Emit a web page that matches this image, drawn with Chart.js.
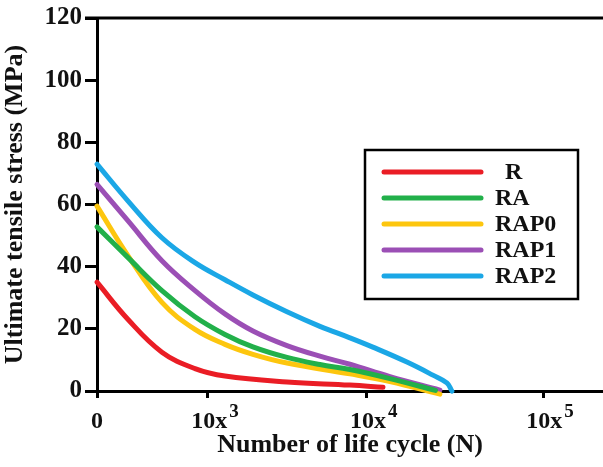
<!DOCTYPE html>
<html>
<head>
<meta charset="utf-8">
<script src="https://cdn.jsdelivr.net/npm/chart.js@4"></script>
<style>
  html, body { margin: 0; padding: 0; background: #fff; }
  #wrap { width: 603px; height: 467px; }
</style>
</head>
<body>
<div id="wrap"><canvas id="myChart"></canvas></div>
<script>
// series labels and colours
const seriesNames = ["R", "RA", "RAP0", "RAP1", "RAP2"];
const seriesColors = ["#ea1d25", "#22b04a", "#fdc60e", "#9b4fb5", "#1ba7e6"];

// x positions are in axis units (0 = origin, tick marks at xTickPos)
const xTickPos = [0, 1, 2.43, 4.02];
const xTickBase = ["0", "10x", "10x", "10x"];
const xTickExp = ["", "3", "4", "5"];

const rX = [0, 0.28, 0.585, 0.883, 1.153, 1.712, 2.279, 2.577];
const rY = [35, 23, 12.5, 7.2, 4.8, 2.9, 1.9, 1.2];

const raX = [0, 0.28, 0.585, 0.883, 1.153, 1.405, 1.712, 2.009, 2.279, 2.64, 3.05];
const raY = [52.8, 42.9, 32.3, 23.9, 18.2, 14.2, 10.8, 8.5, 6.9, 4.0, 0.2];

const rap0X = [0, 0.28, 0.585, 0.883, 1.153, 1.405, 1.712, 2.279, 2.64, 3.09];
const rap0Y = [59.5, 43.5, 28.5, 19.8, 15.0, 11.8, 9.0, 5.5, 3.0, -1];

const rap1X = [0, 0.28, 0.585, 0.883, 1.153, 1.405, 1.712, 2.009, 2.279, 2.64, 3.09];
const rap1Y = [66.5, 54.7, 41.9, 32.3, 24.8, 19.3, 14.6, 11.2, 8.6, 4.6, 0.3];

const rap2X = [0, 0.28, 0.585, 0.883, 1.153, 1.405, 1.712, 2.009, 2.279, 2.486, 2.793, 3.027, 3.153, 3.198];
const rap2Y = [73, 61.1, 49.3, 41.3, 35.8, 30.9, 25.5, 20.8, 17.1, 14.1, 9.3, 5.1, 2.6, 0];

const yTicks = [0, 20, 40, 60, 80, 100, 120];

const xs = [rX, raX, rap0X, rap1X, rap2X];
const ys = [rY, raY, rap0Y, rap1Y, rap2Y];

const serif = "'Liberation Serif', 'Times New Roman', serif";

const datasets = seriesNames.map((name, i) => ({
  label: name,
  data: xs[i].map((x, j) => ({ x: x, y: ys[i][j] })),
  borderColor: seriesColors[i],
  backgroundColor: seriesColors[i],
  borderWidth: 5,
  pointRadius: 0,
  tension: 0.4,
  borderCapStyle: 'round',
  clip: false
}));

// top frame line, x tick labels with superscripts, boxed legend
const extras = {
  id: 'extras',
  afterDraw(chart) {
    const ctx = chart.ctx;
    const area = chart.chartArea;
    ctx.save();
    ctx.strokeStyle = '#000';
    ctx.lineWidth = 3;
    ctx.beginPath();
    ctx.moveTo(area.left - 12, area.top);
    ctx.lineTo(chart.width, area.top);
    ctx.stroke();

    // x tick labels
    const xs = chart.scales.x;
    ctx.fillStyle = '#111';
    ctx.textBaseline = 'alphabetic';
    xTickPos.forEach((v, i) => {
      const px = xs.getPixelForValue(v);
      ctx.font = "bold 24px " + serif;
      const w1 = ctx.measureText(xTickBase[i]).width;
      ctx.font = "bold 19px " + serif;
      const w2 = xTickExp[i] ? ctx.measureText(xTickExp[i]).width + 2 : 0;
      const start = px - (w1 + w2) / 2 + (i ? 7 : 0);
      ctx.font = "bold 24px " + serif;
      ctx.textAlign = 'left';
      ctx.fillText(xTickBase[i], start, 428);
      if (xTickExp[i]) {
        ctx.font = "bold 19px " + serif;
        ctx.fillText(xTickExp[i], start + w1 + 2, 417);
      }
    });

    // legend box
    ctx.lineWidth = 2.5;
    ctx.strokeRect(365, 150, 213, 149);
    chart.data.datasets.forEach((ds, i) => {
      const y = 172 + i * 26;
      ctx.strokeStyle = ds.borderColor;
      ctx.lineWidth = 5;
      ctx.lineCap = 'round';
      ctx.beginPath();
      ctx.moveTo(384, y);
      ctx.lineTo(481, y);
      ctx.stroke();
      ctx.fillStyle = '#111';
      ctx.font = "bold 24px " + serif;
      ctx.textAlign = 'left';
      ctx.textBaseline = 'middle';
      ctx.fillText(ds.label, i === 0 ? 505 : 495, y + 1);
    });
    ctx.restore();
  }
};

new Chart(document.getElementById('myChart'), {
  type: 'line',
  data: { datasets: datasets },
  options: {
    responsive: true,
    maintainAspectRatio: false,
    animation: false,
    layout: { padding: { top: 17, right: 0, left: 0, bottom: 0 } },
    plugins: {
      legend: { display: false },
      tooltip: { enabled: false }
    },
    scales: {
      x: {
        type: 'linear',
        min: 0,
        max: 4.56,
        afterBuildTicks: (scale) => { scale.ticks = xTickPos.map(v => ({ value: v })); },
        afterFit: (scale) => { scale.height = 76; },
        grid: { display: true, drawOnChartArea: false, tickLength: 7, tickWidth: 3, tickColor: '#000' },
        border: { display: true, color: '#000', width: 3 },
        ticks: { color: 'rgba(0,0,0,0)', font: { family: serif, size: 22, weight: 'bold' }, callback: (v, i) => xTickBase[i] + xTickExp[i] },
        title: {
          display: true,
          text: 'Number of life cycle (N)',
          color: '#111',
          font: { family: serif, size: 26, weight: 'bold' },
          padding: { top: 0, bottom: 6 }
        }
      },
      y: {
        min: 0,
        max: 120,
        afterBuildTicks: (scale) => { scale.ticks = yTicks.map(v => ({ value: v })); },
        afterFit: (scale) => { scale.width = 97; },
        grid: { display: true, drawOnChartArea: false, tickLength: 12, tickWidth: 3, tickColor: '#000' },
        border: { display: true, color: '#000', width: 3 },
        ticks: { color: '#111', padding: 3, font: { family: serif, size: 25, weight: 'bold' } },
        title: {
          display: true,
          text: 'Ultimate tensile stress (MPa)',
          color: '#111',
          font: { family: serif, size: 26, weight: 'bold' },
          padding: { top: 0, bottom: 0 }
        }
      }
    }
  },
  plugins: [extras]
});
</script>
</body>
</html>
